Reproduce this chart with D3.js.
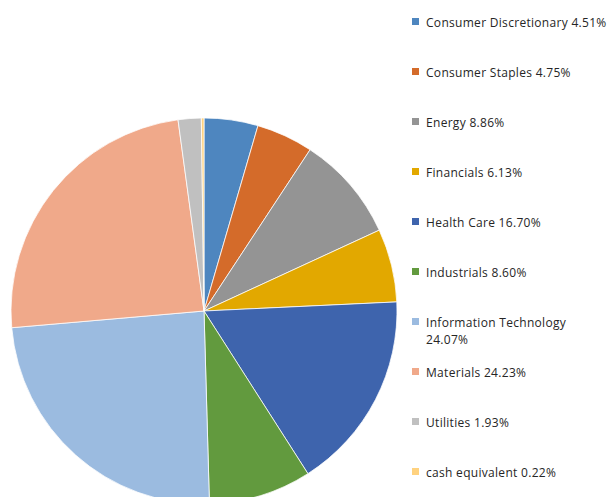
<!DOCTYPE html>
<html>
<head>
<meta charset="utf-8">
<script src="https://cdn.jsdelivr.net/npm/d3@7"></script>
<style>
  html, body { margin: 0; padding: 0; background: #fff; }
  svg { display: block; }
</style>
</head>
<body>
<svg id="chart" width="609" height="497"></svg>
<script>
// Sector allocation (percent of portfolio)
const sectors = [
  "Consumer Discretionary", "Consumer Staples", "Energy", "Financials",
  "Health Care", "Industrials", "Information Technology", "Materials",
  "Utilities", "cash equivalent"
];
const weights = [4.51, 4.75, 8.86, 6.13, 16.70, 8.60, 24.07, 24.23, 1.93, 0.22];
const legendLabels = [
  ["Consumer Discretionary 4.51%"],
  ["Consumer Staples 4.75%"],
  ["Energy 8.86%"],
  ["Financials 6.13%"],
  ["Health Care 16.70%"],
  ["Industrials 8.60%"],
  ["Information Technology", "24.07%"],
  ["Materials 24.23%"],
  ["Utilities 1.93%"],
  ["cash equivalent 0.22%"]
];
const colors = [
  "#4e86bf", "#d46b2a", "#949494", "#e2a800", "#3e64ad",
  "#629a3e", "#9bbbe0", "#f0a98a", "#c0c0c0", "#ffd27f"
];

const svg = d3.select("#chart");
const cx = 204, cy = 311, r = 193;

const color = d3.scaleOrdinal().domain(sectors).range(colors);

const pie = d3.pie().sort(null).value(d => d.value);
const arc = d3.arc().innerRadius(0).outerRadius(r);

const data = sectors.map((s, i) => ({ name: s, value: weights[i] }));

svg.append("g")
  .attr("transform", `translate(${cx},${cy})`)
  .selectAll("path")
  .data(pie(data))
  .join("path")
  .attr("d", arc)
  .attr("fill", d => color(d.data.name))
  .attr("stroke", "#ffffff")
  .attr("stroke-width", 0.75);

// Legend
const legendY = d3.scaleLinear().domain([0, 1]).range([22, 72]);
const legend = svg.append("g")
  .selectAll("g")
  .data(data)
  .join("g")
  .attr("transform", (d, i) => `translate(412,${legendY(i)})`);

legend.append("rect")
  .attr("x", 0).attr("y", -4)
  .attr("width", 7).attr("height", 7)
  .attr("fill", d => color(d.name));

legend.append("text")
  .attr("x", 14)
  .attr("y", 4.5)
  .attr("font-family", "'Open Sans', sans-serif")
  .attr("font-size", "12px")
  .attr("letter-spacing", "0.3px")
  .attr("fill", "#262626")
  .selectAll("tspan")
  .data((d, i) => legendLabels[i])
  .join("tspan")
  .attr("x", 14)
  .attr("dy", (d, j) => j === 0 ? 0 : 17)
  .text(d => d);
</script>
</body>
</html>
